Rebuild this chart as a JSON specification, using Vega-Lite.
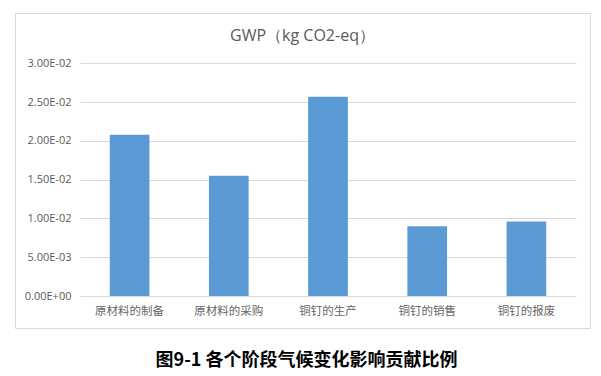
{
  "$schema": "https://vega.github.io/schema/vega-lite/v6.json",
  "autosize": "none",
  "width": 575,
  "height": 315,
  "padding": {"left": 15, "top": 13, "right": 11, "bottom": 48},
  "background": "white",
  "title": {
    "text": "GWP（kg CO2-eq）",
    "font": "Open Sans",
    "fontSize": 16,
    "fontWeight": "normal",
    "color": "#595959",
    "anchor": "middle",
    "baseline": "middle",
    "offset": -39
  },
  "data": {
    "values": [
      {"stage": "原材料的制备", "gwp": 0.0208},
      {"stage": "原材料的采购", "gwp": 0.0155},
      {"stage": "铜钉的生产", "gwp": 0.0257},
      {"stage": "铜钉的销售", "gwp": 0.0090},
      {"stage": "铜钉的报废", "gwp": 0.0096}
    ]
  },
  "mark": {"type": "bar", "color": "#5b9bd5"},
  "encoding": {
    "x": {
      "field": "stage",
      "type": "nominal",
      "sort": null,
      "scale": {"range": [65, 561], "paddingInner": 0.6, "paddingOuter": 0.3},
      "axis": {
        "title": "图9-1  各个阶段气候变化影响贡献比例",
        "titleFont": "Noto Sans CJK SC",
        "titleFontSize": 18,
        "titleFontWeight": "bold",
        "titleColor": "#000000",
        "titlePadding": 35,
        "titleX": 291,
        "offset": -32,
        "domain": false,
        "ticks": false,
        "labelAngle": 0,
        "labelPadding": 9,
        "labelFont": "Noto Sans CJK SC",
        "labelFontSize": 11.5,
        "labelColor": "#666666"
      }
    },
    "y": {
      "field": "gwp",
      "type": "quantitative",
      "scale": {"domain": [0, 0.03], "nice": false, "zero": true, "range": [283, 50.3]},
      "axis": {
        "title": null,
        "offset": -65,
        "domain": false,
        "ticks": false,
        "values": [0, 0.005, 0.01, 0.015, 0.02, 0.025, 0.03],
        "labelExpr": "replace(replace(format(datum.value, '.2e'), 'e-', 'E-0'), 'e+', 'E+0')",
        "labelPadding": 9,
        "labelFont": "Open Sans",
        "labelFontSize": 11,
        "labelColor": "#595959",
        "grid": true,
        "gridColor": "#d9d9d9",
        "gridWidth": 1
      }
    }
  },
  "config": {
    "view": {"stroke": "#d9d9d9", "strokeWidth": 1}
  }
}
